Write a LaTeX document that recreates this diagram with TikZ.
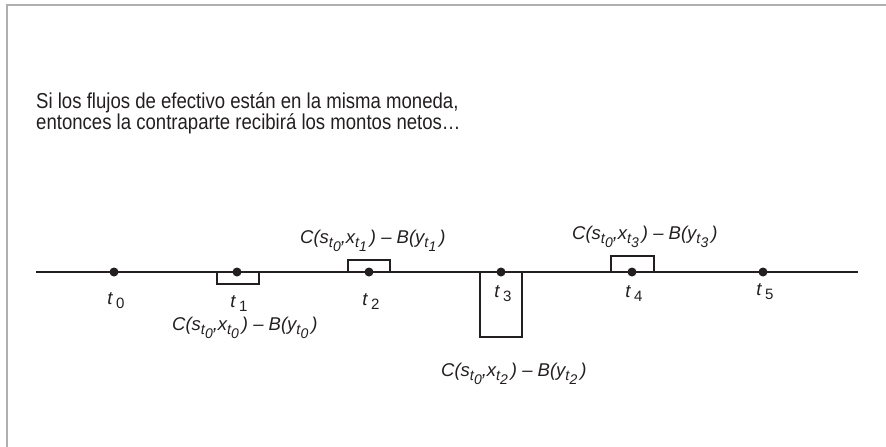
\documentclass[tikz,border=0pt]{standalone}
\usepackage{fontspec}
\setmainfont{Liberation Sans}
\newfontfamily\narrowsans[FakeStretch=0.86]{Liberation Sans}
\definecolor{framegrey}{RGB}{175, 175, 178}
\definecolor{inkdark}{RGB}{35, 31, 32}
\usetikzlibrary{calc, positioning}

% subscript t_i as printed under the amounts
\newcommand{\flowsub}[1]{\raisebox{-0.5ex}{\fontsize{14.5}{14.5}\selectfont t\raisebox{-0.45ex}{\fontsize{14}{14}\selectfont #1}}}
\newcommand{\tmark}[1]{\textit{t}\hspace{3pt}\raisebox{-0.45ex}{\fontsize{15}{15}\selectfont #1}}

\begin{document}
\begin{tikzpicture}[x=1pt, y=-1pt,
    dot/.style={circle, fill=inkdark, inner sep=0pt, minimum size=9pt},
    tlabel/.style={font=\fontsize{18.5}{18.5}\selectfont, inner sep=0pt, anchor=base, text=inkdark},
    amount/.style={font=\fontsize{18.5}{18.5}\selectfont\itshape, inner sep=0pt, anchor=base west, text=inkdark},
    flow/.style={draw=inkdark, line width=2pt}]
  \useasboundingbox (0,0) rectangle (886,447);
  \draw[framegrey, line width=2pt] (7,447) -- (7,5) -- (886,5);

  \node[font=\narrowsans\fontsize{21.6}{17}\selectfont, align=left, anchor=north west, inner sep=0pt, text=inkdark] (msg) at (36,92)
    {Si los flujos de efectivo están en la misma moneda,\\entonces la contraparte recibirá los montos netos…};

  % time axis
  \coordinate (axisL) at (36,272);
  \coordinate (axisR) at (858,272);
  \draw[inkdark, line width=1.2pt] (axisL) -- (axisR);

  % net amounts
  \draw[flow] (217,272) -- (217,284) -- (259,284) -- (259,272);
  \draw[flow] (348,272) -- (348,260) -- (390,260) -- (390,272);
  \draw[flow] (480,272) -- (480,337) -- (522,337) -- (522,272);
  \draw[flow] (611,272) -- (611,256) -- (654,256) -- (654,272);

  \foreach \i/\x in {0/114, 1/237, 2/369, 3/501, 4/632, 5/763}
    \node[dot] (t\i) at (\x,272) {};

  \node[tlabel] (lt0) at (116,304) {\tmark{0}};
  \node[tlabel] (lt1) at (239,307) {\tmark{1}};
  \node[tlabel] (lt2) at (371,305) {\tmark{2}};
  \node[tlabel] (lt3) at (503,297) {\tmark{3}};
  \node[tlabel] (lt4) at (634,297) {\tmark{4}};
  \node[tlabel] (lt5) at (765,295) {\tmark{5}};

  \node[amount] (c0) at (172,330) {C(s\flowsub{0},x\flowsub{0}\hspace{3pt}) – B(y\flowsub{0}\hspace{3pt})};
  \node[amount] (c1) at (300,243) {C(s\flowsub{0},x\flowsub{1}\hspace{3pt}) – B(y\flowsub{1}\hspace{3pt})};
  \node[amount] (c2) at (441,376) {C(s\flowsub{0},x\flowsub{2}\hspace{3pt}) – B(y\flowsub{2}\hspace{3pt})};
  \node[amount] (c3) at (572,239) {C(s\flowsub{0},x\flowsub{3}\hspace{3pt}) – B(y\flowsub{3}\hspace{3pt})};
\end{tikzpicture}
\end{document}
